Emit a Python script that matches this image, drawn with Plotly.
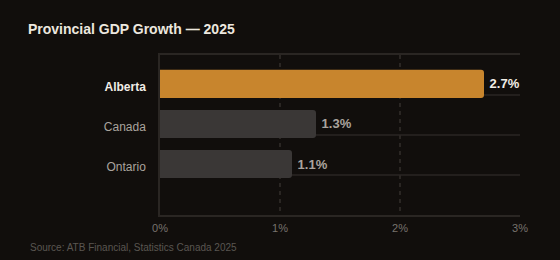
import plotly.graph_objects as go

regions = ["Alberta", "Canada", "Ontario"]
growth = [2.7, 1.3, 1.1]
bar_colors = ["#c8852d", "#3a3736", "#3a3736"]
label_colors = ["#f2ede6", "#aaa49e", "#aaa49e"]
tick_vals = [0, 1, 2, 3]
tick_text = ["0%", "1%", "2%", "3%"]

FONT = "Liberation Sans, Arial, Helvetica, sans-serif"
BG = "#110e0c"
GRID = "#2a2623"

ytext = []
for i, r in enumerate(regions):
    if i == 0:
        ytext.append(f"<b><span style='color:{label_colors[i]}'>{r}</span></b>")
    else:
        ytext.append(f"<span style='color:{label_colors[i]}'>{r}</span>")

fig = go.Figure()
fig.add_trace(go.Bar(
    x=growth, y=regions, orientation="h",
    marker=dict(color=bar_colors, line=dict(width=0), cornerradius=3),
    width=0.7,
    text=[f"\u2009<b>{v:.1f}%</b>" for v in growth],
    textposition="outside",
    textfont=dict(family=FONT, size=13, color=label_colors),
    cliponaxis=False,
    hoverinfo="skip",
))

shapes = []
for d in [0.25, 0.5, 0.75]:
    shapes.append(dict(type="line", xref="x domain", yref="y domain",
                       x0=0, x1=1, y0=d, y1=d, layer="below",
                       line=dict(color=GRID, width=1.5)))

fig.update_layout(
    width=560, height=260,
    margin=dict(l=160, r=40, t=55, b=45),
    paper_bgcolor=BG, plot_bgcolor=BG,
    showlegend=False,
    font=dict(family=FONT),
    title=dict(text="<b>Provincial GDP Growth — 2025</b>",
               x=28/560, xref="container", xanchor="left",
               y=1-29/260, yref="container", yanchor="middle",
               font=dict(family=FONT, size=14, color="#ece7df")),
    xaxis=dict(range=[0, 3], tickvals=tick_vals, ticktext=tick_text,
               showgrid=True, gridcolor=GRID, griddash="4px,4px", gridwidth=1.5,
               zeroline=False, showline=True, linecolor=GRID, linewidth=1.5,
               mirror=True, ticks="", ticklabelstandoff=2,
               tickfont=dict(family=FONT, size=11, color="#77726d"),
               fixedrange=True),
    yaxis=dict(type="category", categoryorder="array", categoryarray=regions,
               range=[3.27, -0.72], tickvals=regions, ticktext=ytext,
               showgrid=False, zeroline=False, showline=True, linecolor=GRID,
               linewidth=1.5, ticks="", ticklabelstandoff=10, ticklabelshift=-3,
               tickfont=dict(family=FONT, size=12, color="#aaa49e"),
               fixedrange=True),
    shapes=shapes,
    annotations=[dict(text="Source: ATB Financial, Statistics Canada 2025",
                      xref="paper", yref="paper", x=(28-160)/360, y=(214.5-246.7)/159.5,
                      xanchor="left", yanchor="middle", showarrow=False,
                      font=dict(family=FONT, size=10, color="#5a5651"))],
)

fig.write_html("out.html")
